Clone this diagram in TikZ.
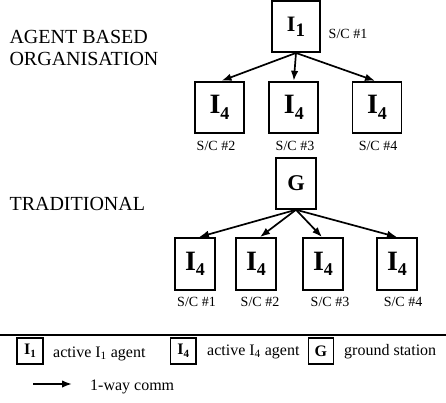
\documentclass[tikz,border=0pt]{standalone}
\usepackage{fontspec}
\setmainfont{Liberation Serif}
\usetikzlibrary{positioning}
\usetikzlibrary{arrows.meta}

\newcommand{\bigagent}[1]{I\raisebox{-5.5pt}{\fontsize{18}{18}\selectfont #1}}
\newcommand{\keyagent}[1]{I\raisebox{-2.5pt}{\fontsize{11}{11}\selectfont #1}}

\begin{document}
\begin{tikzpicture}[x=1pt,y=-1pt,every path/.style={>={Latex[length=10pt,width=7.5pt]}},
		agentbox/.style={draw,rectangle,line width=1.9pt,inner sep=0pt,font=\fontsize{28}{28}\selectfont\bfseries},
		keybox/.style={draw,rectangle,line width=1.4pt,inner sep=0pt,minimum height=26pt,font=\fontsize{16}{16}\selectfont\bfseries},
		sclabel/.style={font=\fontsize{14}{14}\selectfont},
		keytext/.style={anchor=base west,inner sep=0pt,font=\fontsize{16}{16}\selectfont},
		heading/.style={anchor=west,align=left,font=\fontsize{20}{22.7}\selectfont},
		comm/.style={->,line width=1.7pt}]
		\useasboundingbox (0,0) rectangle (446,402);

		% draw headings
		\node (HA) at (6,48) [heading] {AGENT BASED\\ORGANISATION};
		\node (HT) at (6,204) [heading] {TRADITIONAL};

		% draw agent based organisation
		\node (I1) at (296,26.5) [agentbox,minimum width=48pt,minimum height=51pt,font=\fontsize{22}{22}\selectfont\bfseries] {I\raisebox{-5pt}{\fontsize{19}{19}\selectfont 1}};
		\node (A2) at (219.5,107.5) [agentbox,minimum width=49pt,minimum height=51.5pt] {\bigagent{4}};
		\node (A3) at (293.8,107.5) [agentbox,minimum width=49pt,minimum height=51.5pt] {\bigagent{4}};
		\node (A4) at (377,107.5) [agentbox,minimum width=49pt,minimum height=51.5pt] {\bigagent{4}};

		\node (SA1) at (348,34) [sclabel] {S/C \#1};
		\node (SA2) at (216,146) [sclabel] {S/C \#2};
		\node (SA3) at (295,146) [sclabel] {S/C \#3};
		\node (SA4) at (378,146) [sclabel] {S/C \#4};

		% draw lines from I1 to I4 agents
		\draw[comm] (I1.south) to ([xshift=2pt]A2.north);
		\draw[comm] (I1.south) to (A3.north);
		\draw[comm] (I1.south) to ([xshift=-2pt]A4.north);

		% draw traditional organisation
		\node (G) at (296,183.3) [agentbox,minimum width=40pt,minimum height=51pt,font=\fontsize{22.5}{22.5}\selectfont\bfseries] {G};
		\node (T1) at (195,264) [agentbox,minimum width=40pt,minimum height=52pt] {\bigagent{4}};
		\node (T2) at (256,264) [agentbox,minimum width=40pt,minimum height=52pt] {\bigagent{4}};
		\node (T3) at (323,264) [agentbox,minimum width=40pt,minimum height=52pt] {\bigagent{4}};
		\node (T4) at (397,264) [agentbox,minimum width=40pt,minimum height=52pt] {\bigagent{4}};

		\node (ST1) at (196.5,302) [sclabel] {S/C \#1};
		\node (ST2) at (260,302) [sclabel] {S/C \#2};
		\node (ST3) at (330,302) [sclabel] {S/C \#3};
		\node (ST4) at (403,302) [sclabel] {S/C \#4};

		% draw lines from ground station to I4 agents
		\draw[comm] (G.south) to ([xshift=4pt]T1.north);
		\draw[comm] (G.south) to ([xshift=4pt]T2.north);
		\draw[comm] (G.south) to ([xshift=-1pt]T3.north);
		\draw[comm] (G.south) to (T4.north);

		% draw legend
		\coordinate (R1) at (0,335);
		\coordinate (R2) at (446,335);
		\draw[line width=2pt] (R1) to (R2);

		\node (KI1) at (30,351) [keybox,minimum width=26pt] {\keyagent{1}};
		\node (KI4) at (183.3,351) [keybox,minimum width=25.3pt] {\keyagent{4}};
		\node (KG) at (320.8,351) [keybox,minimum width=25pt] {G};
		\node (TI1) at (53,357) [keytext] {active I\textsubscript{1} agent};
		\node (TI4) at (207,355) [keytext] {active I\textsubscript{4} agent};
		\node (TG) at (344,355) [keytext] {ground station};

		\coordinate (C1) at (33,384);
		\coordinate (C2) at (72,384);
		\draw[comm] (C1) to (C2);
		\node (TC) at (90,390) [keytext] {1-way comm};
	\end{tikzpicture}
\end{document}
